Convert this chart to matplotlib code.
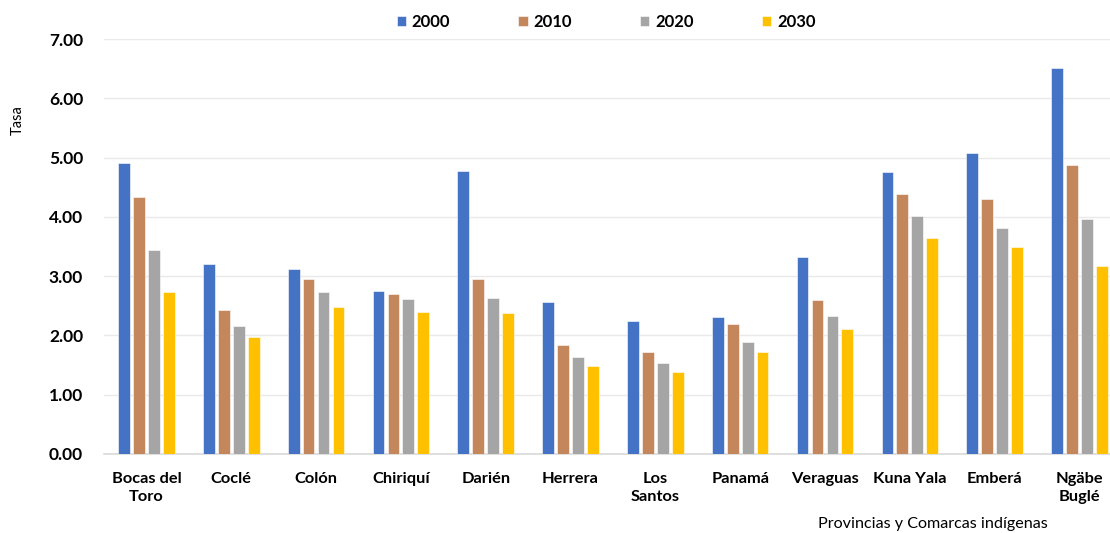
import numpy as np
import matplotlib.pyplot as plt

plt.rcParams['font.family'] = ['Lato', 'DejaVu Sans']

# Provinces and indigenous comarcas along the x axis
regiones = ["Bocas del\nToro", "Coclé", "Colón", "Chiriquí", "Darién", "Herrera",
            "Los\nSantos", "Panamá", "Veraguas", "Kuna Yala", "Emberá", "Ngäbe\nBuglé"]

# Rates per year
tasa_2000 = [4.91, 3.20, 3.12, 2.75, 4.78, 2.57, 2.25, 2.31, 3.33, 4.76, 5.07, 6.51]
tasa_2010 = [4.33, 2.43, 2.96, 2.70, 2.96, 1.84, 1.72, 2.19, 2.60, 4.38, 4.30, 4.87]
tasa_2020 = [3.44, 2.16, 2.73, 2.61, 2.63, 1.64, 1.53, 1.89, 2.32, 4.02, 3.81, 3.97]
tasa_2030 = [2.74, 1.97, 2.48, 2.39, 2.37, 1.48, 1.38, 1.72, 2.11, 3.65, 3.50, 3.17]

anios = ["2000", "2010", "2020", "2030"]
series = [tasa_2000, tasa_2010, tasa_2020, tasa_2030]
colores = ["#4472C4", "#C4875B", "#A5A5A5", "#FFC000"]

fig = plt.figure(figsize=(11.1, 5.33), dpi=100)
ax = fig.add_axes([104 / 1110, 79 / 533, 1 - 104 / 1110, 415 / 533])

x = np.arange(len(regiones))
paso = 0.176
ancho = 0.139
for i, (vals, anio, col) in enumerate(zip(series, anios, colores)):
    ax.bar(x + (i - 1.5) * paso, vals, width=ancho, color=col, label=anio,
           edgecolor="white", linewidth=0.4, zorder=3)

ax.set_xlim(-0.5, 11.36)
ax.set_ylim(0, 7)
ax.set_yticks(np.arange(0, 7.5, 1))
ax.set_yticklabels([f"{v:.2f}" for v in np.arange(0, 7.5, 1)],
                   fontsize=12.5, fontweight="bold")
ax.set_xticks(x)
ax.set_xticklabels(regiones, fontsize=11.8, fontweight="bold", linespacing=1.35)
ax.tick_params(axis="x", length=0, pad=13)
ax.tick_params(axis="y", length=0, pad=15)

ax.grid(axis="y", color="#e9e9e9", linewidth=1, zorder=0)
for s in ["top", "right", "left"]:
    ax.spines[s].set_visible(False)
ax.spines["bottom"].set_color("#d9d9d9")
ax.spines["bottom"].set_linewidth(1.2)

fig.text(18 / 1110, 1 - 120 / 533, "Tasa", rotation=90, fontsize=10.5,
         ha="center", va="center")
fig.text(933 / 1110, 1 - 524 / 533, "Provincias y Comarcas indígenas",
         fontsize=11.6, ha="center", va="center")

fig.legend(loc="center", bbox_to_anchor=(606 / 1110, 1 - 22 / 533), ncol=4,
           frameon=False, prop={"weight": "bold", "size": 12},
           handlelength=0.55, handleheight=0.55, handletextpad=0.35,
           columnspacing=4.1)

fig.savefig("out.png", dpi=100)
